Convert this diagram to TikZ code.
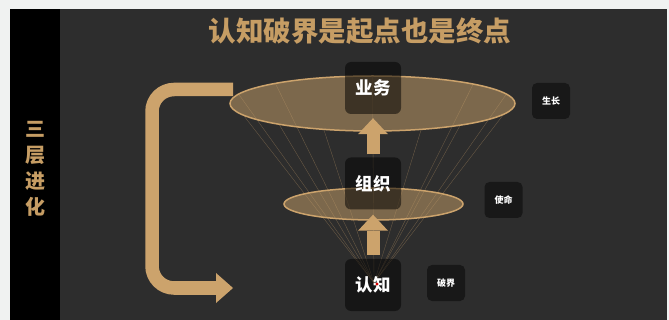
\documentclass[tikz,border=0pt]{standalone}
\usepackage{fontspec}
\newfontfamily\cjk{Noto Sans CJK SC}
\usetikzlibrary{arrows.meta, shapes.geometric, positioning}
\definecolor{tan}{RGB}{204,163,108}
\definecolor{titletan}{RGB}{198,157,100}
\definecolor{stage}{RGB}{45,45,45}
\definecolor{margin}{RGB}{240,242,241}
\definecolor{boxgray}{RGB}{24,24,24}

\begin{document}
\begin{tikzpicture}[x=1pt, y=-1pt,
	layer/.style={ellipse, draw=tan, line width=1.5pt, fill=tan, fill opacity=0.5, inner sep=0pt},
	mainbox/.style={rounded corners=6pt, fill=black, fill opacity=0.5, text opacity=1, text=white, minimum width=56pt, minimum height=52pt, font=\cjk\bfseries\fontsize{17.5}{17.5}\selectfont},
	sidebox/.style={rounded corners=5pt, fill=boxgray, text=white, minimum width=38pt, minimum height=36pt, font=\cjk\bfseries\fontsize{9}{9}\selectfont},
	uparrow/.style={draw=tan, line width=13pt, -{Triangle[width=30pt, length=16pt, line width=0pt]}},
	fan/.style={draw=tan, line width=0.35pt, draw opacity=0.4}]
	     % background %
		 \useasboundingbox (0,0) rectangle (669,320);
		 \fill[margin] (0,0) rectangle (669,320);
		 \fill[stage] (10,9) rectangle (667,320);
		 \fill[black] (10,9) rectangle (60,320);

	     % texts %
		 \node[text=titletan, font=\cjk\bfseries\fontsize{27.5}{27.5}\selectfont] (title) at (360,31) {认知破界是起点也是终点};
		 \node[text=titletan, align=center, font=\cjk\bfseries\fontsize{20}{26}\selectfont] (side) at (35,169) {三\\层\\进\\化};

	     % layers %
		 \node[layer, minimum width=285pt, minimum height=55pt] (top) at (372.5,103.5) {};
		 \node[layer, minimum width=179pt, minimum height=32pt] (mid) at (373.5,204) {};
		 \coordinate (apex) at (374,283);
		 \foreach \t in {133,160,205,229,250,90,45,20,-23,-52,-70}
			 \draw[fan] (apex) -- ([shift={({142.5*cos(\t)},{-27.5*sin(\t)})}]top.center);

	     % nodes %
		 \node[mainbox] (yewu) at (373,88) {业务};
		 \node[mainbox] (zuzhi) at (373,183.5) {组织};
		 \node[mainbox] (renzhi) at (373,285) {认知};
		 \node[sidebox] (shengzhang) at (551,101) {生长};
		 \node[sidebox] (shiming) at (503.5,200) {使命};
		 \node[sidebox] (pojie) at (446,283) {破界};
		 \fill[red!85!black] (377,284) circle (1.6pt);

	     % edges %
		 \draw[uparrow, shorten <=3pt, shorten >=4pt] (zuzhi) -- (yewu);
		 \draw[uparrow, shorten <=4pt, shorten >=5pt] (renzhi) -- (zuzhi);
		 \coordinate (loopstart) at (233,89.5);
		 \coordinate (loopend) at (233,288);
		 \draw[tan, line width=13.5pt, rounded corners=22pt, -{Triangle[width=30pt, length=17pt, line width=0pt]}] (loopstart) -- (152,89.5) -- (152,288) -- (loopend);
\end{tikzpicture}
\end{document}
